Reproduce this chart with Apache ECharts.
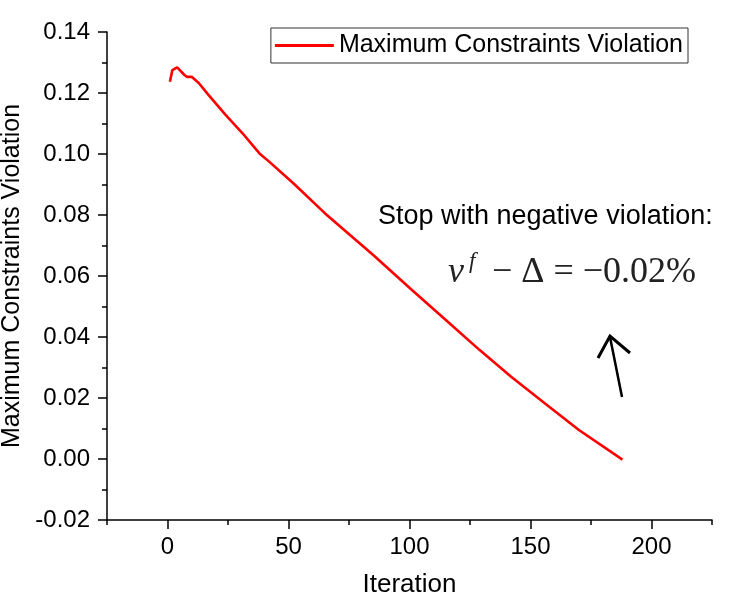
<!DOCTYPE html>
<html>
<head>
<meta charset="utf-8">
<script src="https://cdn.jsdelivr.net/npm/echarts@6/dist/echarts.min.js"></script>
<style>
  html, body { margin: 0; padding: 0; background: #fff; }
  #main { width: 734px; height: 602px; }
</style>
</head>
<body>
<div id="main"></div>
<script>
// values
var iterations = [1, 2, 4, 7, 8, 10, 13, 17, 24, 31, 38, 42, 52, 65, 85, 101, 115, 129, 142, 156, 170, 188];
var violation = [0.1237, 0.1275, 0.1284, 0.1259, 0.1253, 0.1253, 0.1232, 0.1193, 0.1128, 0.1068, 0.1002, 0.0975,
                 0.0904, 0.0806, 0.0669, 0.0554, 0.0456, 0.0357, 0.0270, 0.0182, 0.0095, -0.0002];
var seriesName = 'Maximum Constraints Violation';
var xLabelStep = 50;

var font = '"Liberation Sans", Arial, sans-serif';
var mathFont = '"Liberation Serif", "DejaVu Serif", serif';

var points = iterations.map(function (it, i) { return [it, violation[i]]; });

var myChart = echarts.init(document.getElementById('main'));
myChart.setOption({
    animation: false,
    grid: { left: 107, right: 22, top: 32, bottom: 82, outerBoundsMode: 'none', containLabel: false },
    legend: {
        data: [{ name: seriesName, icon: 'rect' }],
        right: 46,
        top: 28,
        borderColor: '#333',
        borderWidth: 1,
        padding: [5, 5, 5, 4],
        itemWidth: 59,
        itemHeight: 3,
        textStyle: { fontSize: 25, fontFamily: font, color: '#000' }
    },
    xAxis: [
        {
            // labels and axis line
            type: 'value',
            min: -25, max: 225, interval: 25,
            name: 'Iteration',
            nameLocation: 'middle',
            nameGap: 52,
            nameTextStyle: { fontSize: 26, fontFamily: font, color: '#000' },
            splitLine: { show: false },
            axisLine: { show: true, onZero: false, lineStyle: { color: '#000', width: 1.5 } },
            axisTick: { show: false },
            axisLabel: {
                margin: 15,
                fontSize: 24, fontFamily: font, color: '#000',
                formatter: function (v) { return (v % xLabelStep === 0) ? String(v) : ''; }
            }
        },
        {
            // ticks only: short at -25,25,..  long minor ticks at 0,50,..
            type: 'value',
            min: -25, max: 225, interval: 50,
            position: 'bottom',
            splitLine: { show: false },
            axisLine: { show: false, onZero: false },
            axisLabel: { show: false },
            axisTick: { show: true, inside: false, length: 5, lineStyle: { color: '#000', width: 1.5 } },
            minorTick: { show: true, splitNumber: 2, length: 9, lineStyle: { color: '#000', width: 1.5 } },
            minorSplitLine: { show: false }
        }
    ],
    yAxis: {
        type: 'value',
        min: -0.02, max: 0.14, interval: 0.02,
        name: 'Maximum Constraints Violation',
        nameLocation: 'middle',
        nameGap: 72,
        nameTextStyle: { fontSize: 25, fontFamily: font, color: '#000' },
        splitLine: { show: false },
        axisLine: { show: true, onZero: false, lineStyle: { color: '#000', width: 1.5 } },
        axisTick: { show: true, inside: false, length: 9, lineStyle: { color: '#000', width: 1.5 } },
        minorTick: { show: true, splitNumber: 2, length: 5, lineStyle: { color: '#000', width: 1.5 } },
        axisLabel: {
            margin: 17,
            fontSize: 24, fontFamily: font, color: '#000',
            formatter: function (v) { return v.toFixed(2); }
        }
    },
    series: [
        {
            name: seriesName,
            type: 'line',
            xAxisIndex: 0,
            data: points,
            showSymbol: false,
            symbol: 'none',
            color: '#ff0000',
            lineStyle: { color: '#ff0000', width: 2.6 }
        }
    ],
    graphic: [
        {
            type: 'text', left: 378, top: 203,
            style: { text: 'Stop with negative violation:', font: '27px ' + font, fill: '#000' }
        },
        {
            type: 'text', left: 448, top: 255,
            style: { text: 'ν', font: 'italic 36px ' + mathFont, fill: '#222' }
        },
        {
            type: 'text', left: 469, top: 250,
            style: { text: 'f', font: 'italic 23px ' + mathFont, fill: '#222' }
        },
        {
            type: 'text', left: 492, top: 255,
            style: { text: '− Δ = −0.02%', font: '36px ' + mathFont, fill: '#222' }
        },
        {
            type: 'line',
            shape: { x1: 622, y1: 397, x2: 610, y2: 337 },
            style: { stroke: '#000', lineWidth: 2.5 }
        },
        {
            type: 'polyline',
            shape: { points: [[598, 358], [610, 336], [630, 353]] },
            style: { stroke: '#000', lineWidth: 3, fill: null, lineJoin: 'miter' }
        }
    ]
});
</script>
</body>
</html>
